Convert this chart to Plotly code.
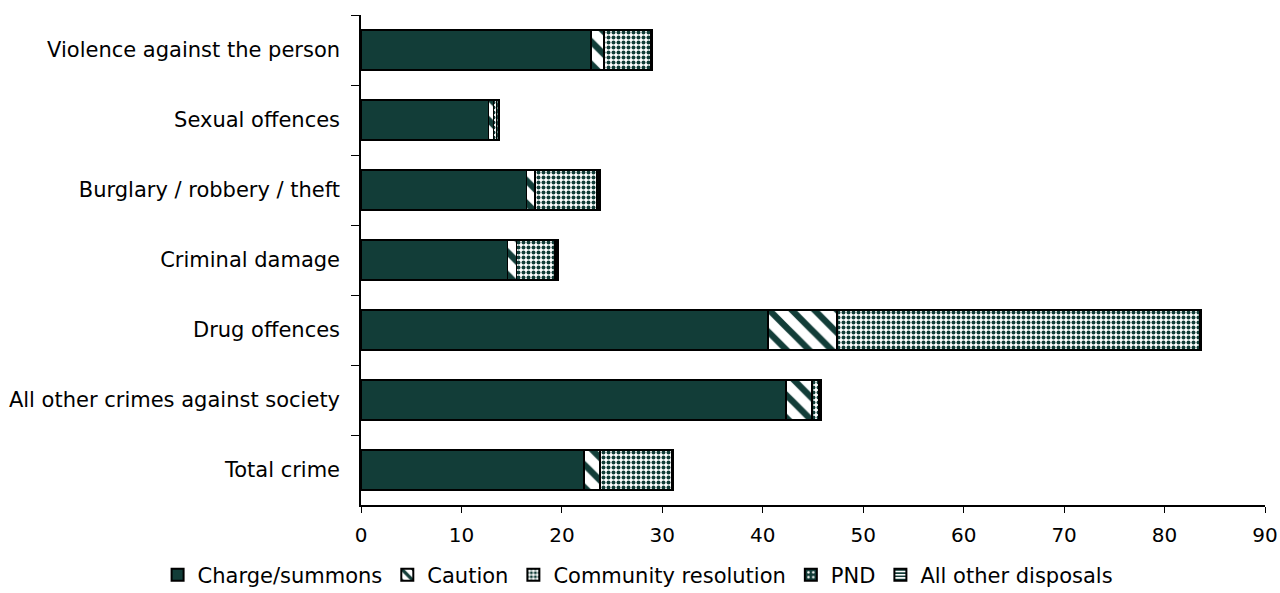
import plotly.graph_objects as go

# Offence groups, top to bottom
categories = [
    "Violence against the person",
    "Sexual offences",
    "Burglary / robbery / theft",
    "Criminal damage",
    "Drug offences",
    "All other crimes against society",
    "Total crime",
]

# Outcome shares (%) per offence group
charge_summons = [22.9, 12.7, 16.5, 14.6, 40.5, 42.3, 22.2]
caution = [1.3, 0.5, 0.8, 0.9, 6.9, 2.6, 1.6]
community_resolution = [4.6, 0.3, 6.2, 3.8, 36.1, 0.7, 7.1]
pnd = [0.1, 0.2, 0.2, 0.2, 0.1, 0.1, 0.1]
all_other_disposals = [0.05, 0.1, 0.1, 0.1, 0.05, 0.1, 0.05]

x_ticks = [0, 10, 20, 30, 40, 50, 60, 70, 80, 90]

GREEN = "#123D38"
FONT = "DejaVu Sans, Arial, sans-serif"

series = [
    ("Charge/summons", charge_summons, dict(shape="")),
    ("Caution", caution, dict(shape="\\", fgcolor=GREEN, bgcolor="white", size=16, solidity=0.4, fillmode="replace")),
    ("Community resolution", community_resolution, dict(shape=".", fgcolor=GREEN, bgcolor="white", size=5, solidity=0.5, fillmode="replace")),
    ("PND", pnd, dict(shape=".", fgcolor="white", bgcolor=GREEN, size=6, solidity=0.2, fillmode="replace")),
    ("All other disposals", all_other_disposals, dict(shape="-", fgcolor=GREEN, bgcolor="white", size=4, solidity=0.5, fillmode="replace")),
]

fig = go.Figure()
for name, vals, pattern in series:
    fig.add_trace(go.Bar(
        name=name,
        y=categories,
        x=vals,
        orientation="h",
        marker=dict(color=GREEN, pattern=pattern, line=dict(color="black", width=1.5)),
    ))

fig.update_layout(
    barmode="stack",
    bargap=0.43,
    width=1280,
    height=593,
    margin=dict(l=361, r=15, t=15, b=88, autoexpand=False),
    plot_bgcolor="white",
    paper_bgcolor="white",
    font=dict(family=FONT, size=21, color="black"),
    showlegend=True,
    legend=dict(
        orientation="h",
        x=-0.225, xanchor="left",
        y=-0.143, yanchor="middle",
        font=dict(family=FONT, size=21, color="black"),
        itemsizing="constant",
        traceorder="normal",
        tracegroupgap=0,
    ),
)

fig.update_xaxes(
    range=[0, 90],
    tickvals=x_ticks,
    ticks="outside",
    ticklen=6,
    tickcolor="black",
    showline=True,
    linecolor="black",
    linewidth=1.5,
    showgrid=False,
    zeroline=False,
    automargin=False,
    ticklabelstandoff=5,
    tickfont=dict(family=FONT, size=20),
)

fig.update_yaxes(
    autorange="reversed",
    ticks="outside",
    tickson="boundaries",
    ticklen=8,
    tickcolor="black",
    showline=True,
    linecolor="black",
    linewidth=1.5,
    showgrid=False,
    automargin=False,
    ticklabelstandoff=15,
    tickfont=dict(family=FONT, size=21),
)

fig.write_html("out.html")
